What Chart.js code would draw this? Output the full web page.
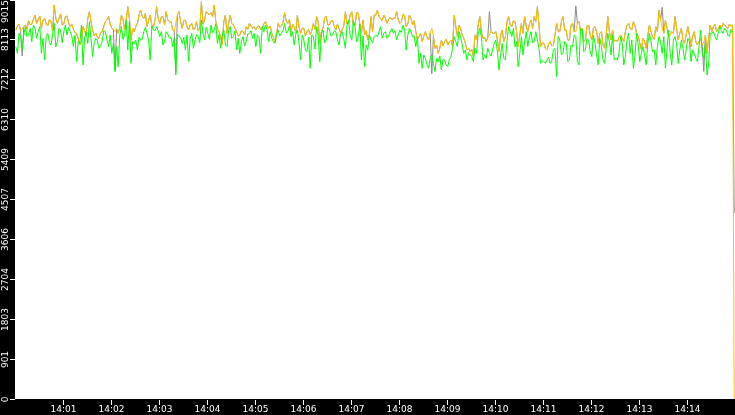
<!DOCTYPE html>
<html>
<head>
<meta charset="utf-8">
<script src="https://cdn.jsdelivr.net/npm/chart.js@4/dist/chart.umd.min.js"></script>
<style>
  html, body { margin: 0; padding: 0; background: #000; }
  canvas { display: block; }
</style>
</head>
<body>
<canvas id="chart" width="735" height="415"></canvas>
<script>
// one sample every 2 s from 14:00:01; the last sample is at 14:14:59
const firstSecond = 1;
const sampleStep = 2;
const lastSecond = 899;

const yMax = 9015;
const yTickLabels = ['0', '901', '1803', '2704', '3606', '4507', '5409', '6310', '7212', '8113', '9015'];
const xTickMinutes = [1, 2, 3, 4, 5, 6, 7, 8, 9, 10, 11, 12, 13, 14];
const xTickLabels = ['14:01', '14:02', '14:03', '14:04', '14:05', '14:06', '14:07', '14:08', '14:09', '14:10', '14:11', '14:12', '14:13', '14:14'];

// samples at 1, 5, 9 ... 897 s
const grayEven = [
  8337,8473,7750,8450,8548,8473,8676,8563,8375,8601,8428,8526,8902,8488,8699,8473,8654,8413,8352,8262,7998,8413,8224,8751,8337,8262,8149,8300,8526,8639,8375,7420,8262,8676,8337,8864,8111,8300,
  8488,8789,8601,8413,8676,8413,8864,8488,8639,8751,8526,8352,7380,8751,8375,8563,8337,8488,8375,8322,8977,8563,8714,8729,8902,8375,8187,8526,8262,8676,8450,8300,8224,8300,8413,8488,8375,
  8337,8428,8375,8526,8375,8262,8074,8488,8428,8729,8488,8300,8413,8676,8262,8375,8300,8224,8488,8639,8036,8375,8654,8450,8548,8337,8375,8352,8751,8488,8751,8450,8714,8262,8224,8111,8639,8676,
  8789,8601,8676,8488,8623,8601,8751,8488,8699,8413,8676,8450,8300,8187,8074,8300,8111,7350,7923,7810,8111,8074,7998,8111,8676,8187,8375,8149,7886,7848,7735,8111,8639,8149,8074,8750,8262,
  8300,7848,8337,8187,8639,8413,8526,7961,8488,8639,8300,8563,8639,8864,7961,8036,7886,8074,7998,8488,8300,8639,8337,8111,8488,8880,8526,8375,8111,8450,8111,8413,8036,8300,7923,8639,8111,8074,
  8074,8224,8074,8450,8375,8526,8262,8036,8149,7923,8450,8187,8413,8789,8850,8563,8187,8300,8639,8111,8375,8036,8413,7961,8300,7998,8149,7400,7810,8450,8413,8300,8450,8488,8413,8473,8450
];
// samples at 3, 7, 11 ... 895 s
const grayOdd = [
  8428,8322,8428,8352,8450,8578,8488,8654,8563,8473,8578,8322,8601,8601,8450,8639,8503,8473,8277,8149,8074,8322,8601,8526,8202,8172,8277,8428,8563,8473,8352,8367,8398,8578,8563,8601,8375,
  8413,
  8676,8654,8714,8563,8450,8548,8601,8639,8450,8563,8526,8300,8676,8526,8548,8413,8450,8337,8526,8375,8473,8751,8676,8639,8526,8300,7998,8676,8488,8488,8375,8202,8322,8224,8352,8428,
  8413,
  8413,8352,8473,8428,8428,8172,8262,8398,8503,8548,8578,8473,8277,8398,8375,8202,8352,8322,8352,8526,8300,8601,8450,8548,8428,8473,8277,8428,8473,8676,8428,8729,8473,8563,8322,8247,8300,
  8676,
  8639,8548,8601,8578,8578,8601,8578,8526,8654,8473,8601,8548,8126,8262,8202,8172,8262,8202,7998,7923,7976,8126,8074,7961,8413,8450,8224,8036,7923,7901,8224,8450,8300,8172,8172,8322,
  8262,
  8111,8224,8074,8526,8450,8548,8300,8224,8262,8428,8473,8375,8526,8450,8051,7923,8021,7976,8224,8300,8526,8337,8111,8450,8300,8488,8300,8074,8413,8224,8375,8300,8262,7998,8224,8300,8337,
  8111,
  8172,8149,8300,8488,8337,8428,8202,7901,8074,8224,8300,8126,8300,8563,8262,8375,8224,8262,8375,8262,8111,8224,8224,8187,8074,8074,7998,8224,8149,8300,8473,8375,8375,8443,8375,8428
];
const grayLast = 4200;

const orangeEven = [
  8337,8473,8352,8450,8548,8473,8676,8563,8375,8601,8428,8526,8902,8488,8699,8473,8654,8413,8352,8262,7998,8413,8224,8751,8337,8262,8149,8300,8526,8639,8375,8300,8262,8676,8337,8864,8111,8300,
  8488,8789,8601,8413,8676,8413,8864,8488,8639,8751,8526,8352,8488,8751,8375,8563,8337,8488,8375,8322,8977,8563,8714,8729,8902,8375,8187,8526,8262,8676,8450,8300,8224,8300,8413,8488,8375,
  8337,8428,8375,8526,8375,8262,8074,8488,8428,8729,8488,8300,8413,8676,8262,8375,8300,8224,8488,8639,8036,8375,8654,8450,8548,8337,8375,8352,8751,8488,8751,8450,8714,8262,8224,8111,8639,8676,
  8789,8601,8676,8488,8623,8601,8751,8488,8699,8413,8676,8450,8300,8187,8074,8300,8111,8375,7923,7810,8111,8074,7998,8111,8676,8187,8375,8149,7886,7848,7735,8111,8639,8149,8074,8224,8262,
  8300,7848,8337,8187,8639,8413,8526,7961,8488,8639,8300,8563,8639,8864,7961,8036,7886,8074,7998,8488,8300,8639,8337,8111,8488,8300,8526,8375,8111,8450,8111,8413,8036,8300,7923,8639,8111,8074,
  8074,8224,8074,8450,8375,8526,8262,8036,8149,7923,8450,8187,8413,8789,8375,8563,8187,8300,8639,8111,8375,8036,8413,7961,8300,7998,8149,8074,7810,8450,8413,8300,8450,8488,8413,8473,8450
];
const orangeOdd = [
  8428,8322,8428,8352,8450,8578,8488,8654,8563,8473,8578,8322,8601,8601,8450,8639,8503,8473,8277,8149,8074,8322,8601,8526,8202,8172,8277,8428,8563,8473,8352,8367,8398,8578,8563,8601,8375,
  8413,
  8676,8654,8714,8563,8450,8548,8601,8639,8450,8563,8526,8300,8676,8526,8548,8413,8450,8337,8526,8375,8473,8751,8676,8639,8526,8300,7998,8676,8488,8488,8375,8202,8322,8224,8352,8428,
  8413,
  8413,8352,8473,8428,8428,8172,8262,8398,8503,8548,8578,8473,8277,8398,8375,8202,8352,8322,8352,8526,8300,8601,8450,8548,8428,8473,8277,8428,8473,8676,8428,8729,8473,8563,8322,8247,8300,
  8676,
  8639,8548,8601,8578,8578,8601,8578,8526,8654,8473,8601,8548,8126,8262,8202,8172,8262,8202,7998,7923,7976,8126,8074,7961,8413,8450,8224,8036,7923,7901,8224,8450,8300,8172,8172,8322,
  8262,
  8111,8224,8074,8526,8450,8548,8300,8224,8262,8428,8473,8375,8526,8450,8051,7923,8021,7976,8224,8300,8526,8337,8111,8450,8300,8488,8300,8074,8413,8224,8375,8300,8262,7998,8224,8300,8337,
  8111,
  8172,8149,8300,8488,8337,8428,8202,7901,8074,8224,8300,8126,8300,8563,8262,8375,8224,8262,8375,8262,8111,8224,8224,8187,8074,8074,7998,8224,8149,8300,8473,8375,8375,8443,8375,8428
];
const orangeLast = 0;

const greenEven = [
  7961,8262,7886,8413,8224,8074,8375,8300,7810,7660,8262,7998,8488,8074,8337,8300,8224,8300,7961,7622,8036,7547,8300,8526,7735,8149,7923,8074,8300,7961,7810,7396,7509,8413,8224,7886,7584,8036,
  7886,8111,8300,8262,7660,8337,8413,8187,7998,8300,8149,7961,7321,8187,8036,7886,7622,8262,8111,8187,8563,8111,8262,8450,8337,8036,7923,8337,7961,8413,8187,7886,7810,8187,8074,8262,8149,
  7961,8187,8413,8450,8074,8149,8036,8337,8262,8488,8300,8187,7998,8337,7660,8111,7848,7471,8187,8413,7622,8337,8111,8337,8224,8300,7998,8300,7923,8563,8111,8413,8187,7660,7509,7886,8111,8187,
  8187,8413,8262,8149,8300,8262,8111,8337,8450,7886,8375,8187,7961,7584,7471,7697,7471,7773,7396,7622,7434,7660,7509,7735,8187,7961,8187,7810,7660,7773,7622,7810,8375,7660,7697,7810,7886,
  8111,7434,8036,7660,8413,8187,7961,7509,8187,8074,7961,8300,8074,8111,7584,7622,7660,7584,7886,7283,8111,7810,8036,7660,7961,8187,7547,8337,7886,8111,7735,8036,7547,7961,7584,8262,7773,7660,
  7660,8187,7547,8111,7810,7471,8262,7622,7961,7547,8262,7848,7547,8187,7810,7471,8337,7547,8187,7584,8111,7660,8149,7622,7810,7622,8337,7697,7321,8262,8300,8111,8413,8262,8337,8187,8300
];
const greenOdd = [
  7810,8187,8224,8187,8375,8450,8149,8413,8149,8187,8051,8224,7961,8375,8051,8450,8398,8202,8224,8074,8450,8149,8036,8149,8051,8096,7976,8322,8111,8224,8036,7961,8224,8126,8548,8526,8074,
  8111,
  8172,8126,8398,8111,8428,8322,8322,8300,8074,8247,8172,8149,8247,8172,8172,8224,8149,7923,8232,8051,8262,8398,8126,8277,8473,8232,8224,7998,8322,8149,8322,8149,8074,7976,8247,8322,
  8262,
  8224,7810,8300,8352,8300,8074,8247,8202,8322,8277,8428,8300,8247,8051,8224,7886,8172,8224,7901,8202,8247,8051,8398,8202,8322,8126,8247,8126,8450,8202,8548,8074,8473,8202,7998,8224,8051,
  8224,
  8300,8149,8300,8202,8375,8322,8224,8277,8337,8224,8300,8202,8172,7810,7773,7547,7697,7584,7697,7750,7675,7547,7675,7923,8074,8300,7998,7886,7825,7735,7923,8262,8187,7773,7923,7750,
  8036,
  7848,7773,7697,8074,8300,8375,8074,7810,7773,8300,8187,8051,8300,7923,7645,7584,7720,7645,7923,8187,7773,8074,7622,7998,8224,7622,8375,7848,8149,7848,8224,7773,8149,7660,7923,8074,8224,
  7697,
  7810,8036,7735,8262,8111,7773,7998,7810,7773,8036,8074,7886,7961,8074,8187,7886,7810,8111,8036,7886,7923,7886,8074,7886,7697,7961,7810,8036,7547,8262,8187,8262,8322,8375,8224,8352
];
const greenLast = null;

// put the 4 s samples and the in-between samples back in time order
function series(even, odd, last) {
  const out = [];
  even.forEach((v, i) => {
    out.push(v);
    if (i < odd.length) out.push(odd[i]);
  });
  out.push(last);
  return out.map((v, i) => ({
    x: i === out.length - 1 ? lastSecond : firstSecond + i * sampleStep,
    y: v
  }));
}

const frame = {
  id: 'frame',
  beforeDraw(chart) {
    const { ctx, chartArea: a } = chart;
    ctx.save();
    ctx.fillStyle = '#000';
    ctx.fillRect(0, 0, chart.width, chart.height);
    ctx.fillStyle = '#fff';
    ctx.fillRect(a.left, a.top, a.right - a.left, a.bottom - a.top);
    ctx.restore();
  },
  afterDraw(chart) {
    const { ctx, chartArea: a, scales } = chart;
    ctx.save();
    ctx.strokeStyle = '#fff';
    ctx.fillStyle = '#fff';
    ctx.lineWidth = 1;
    ctx.font = '9px "DejaVu Sans"';

    // time axis
    ctx.textAlign = 'center';
    ctx.textBaseline = 'top';
    xTickMinutes.forEach((m, i) => {
      const px = Math.floor(scales.x.getPixelForValue(m * 60)) + 0.5;
      ctx.beginPath();
      ctx.moveTo(px, a.bottom + 1);
      ctx.lineTo(px, a.bottom + 6);
      ctx.stroke();
      ctx.fillText(xTickLabels[i], px, a.bottom + 6);
    });

    // value axis, labels turned to read upwards
    const step = yMax / (yTickLabels.length - 1);
    ctx.textBaseline = 'middle';
    yTickLabels.forEach((lab, i) => {
      const py = Math.max(0.5, Math.floor(scales.y.getPixelForValue(i * step)) + 0.5);
      ctx.beginPath();
      ctx.moveTo(a.left - 5, py);
      ctx.lineTo(a.left, py);
      ctx.stroke();
      const hw = ctx.measureText(lab).width / 2;
      const cy = Math.max(hw, py);
      ctx.save();
      ctx.translate(5.5, cy);
      ctx.rotate(-Math.PI / 2);
      ctx.fillText(lab, 0, 0);
      ctx.restore();
    });
    ctx.restore();
  }
};

new Chart(document.getElementById('chart'), {
  type: 'line',
  data: {
    datasets: [
      { label: 'green', data: series(greenEven, greenOdd, greenLast), borderColor: '#00ff00' },
      { label: 'orange', data: series(orangeEven, orangeOdd, orangeLast), borderColor: '#ffc000' },
      { label: 'gray', data: series(grayEven, grayOdd, grayLast), borderColor: '#8c8c8c' }
    ]
  },
  options: {
    responsive: false,
    devicePixelRatio: 1,
    animation: false,
    layout: { padding: 0 },
    elements: {
      line: { borderWidth: 1, tension: 0 },
      point: { radius: 0 }
    },
    plugins: { legend: { display: false }, tooltip: { enabled: false } },
    scales: {
      x: {
        type: 'linear', min: 0, max: 900,
        grid: { display: false }, border: { display: false },
        ticks: { display: false },
        afterFit: s => { s.height = 16; }
      },
      y: {
        min: 0, max: yMax,
        grid: { display: false }, border: { display: false },
        ticks: { display: false },
        afterFit: s => { s.width = 15; }
      }
    }
  },
  plugins: [frame]
});
</script>
</body>
</html>
